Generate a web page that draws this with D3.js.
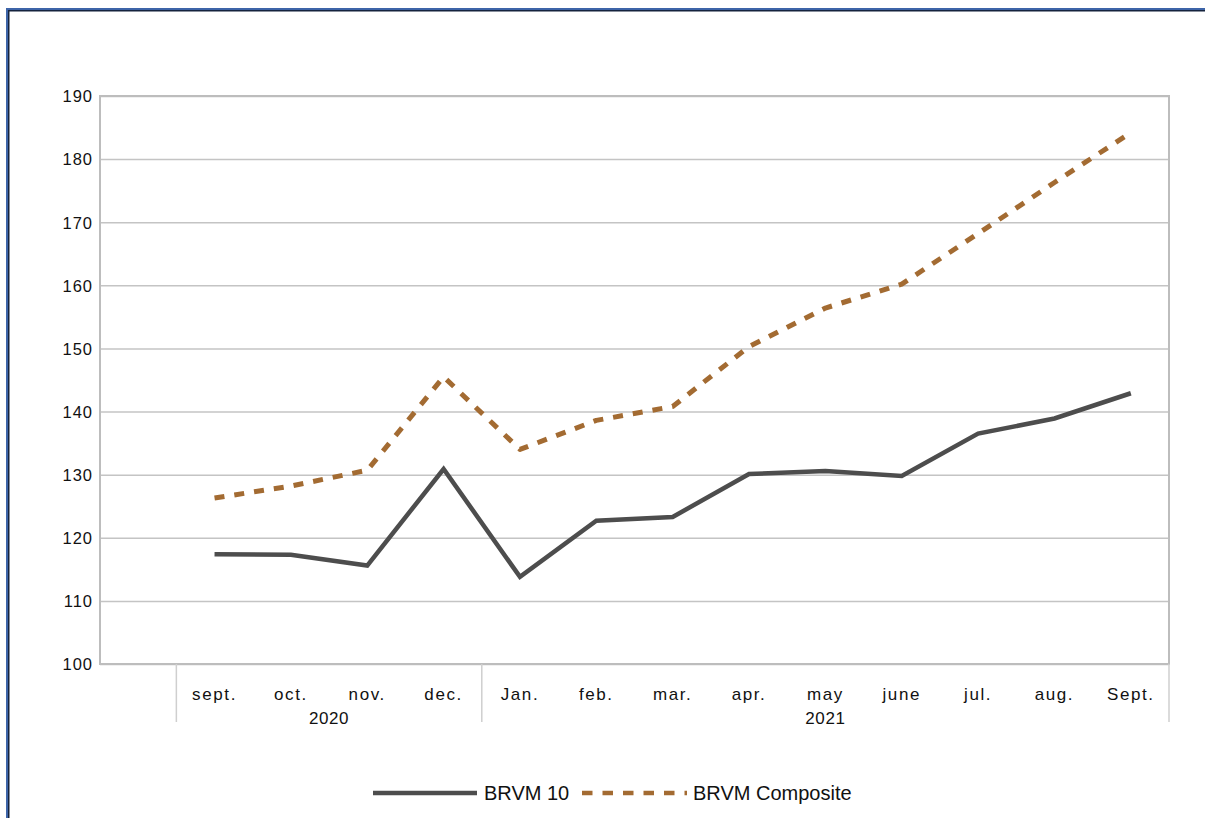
<!DOCTYPE html>
<html>
<head>
<meta charset="utf-8">
<script src="https://cdn.jsdelivr.net/npm/d3@7"></script>
<style>
html,body{margin:0;padding:0;background:#fff;}
svg{display:block;}
text{font-family:"Liberation Sans",Arial,sans-serif;fill:#111;}
</style>
</head>
<body>
<svg id="chart" width="1205" height="818"></svg>
<script>
// ---- data ----
const categories = ["", "sept.", "oct.", "nov.", "dec.", "Jan.", "feb.", "mar.", "apr.", "may", "june", "jul.", "aug.", "Sept."];
const years = [
  {label: "2020", from: 1, to: 4},
  {label: "2021", from: 5, to: 13}
];
const brvm10 =    [null, 117.4, 117.3, 115.6, 130.9, 113.8, 122.7, 123.3, 130.1, 130.6, 129.8, 136.5, 138.9, 142.9];
const composite = [null, 126.3, 128.2, 130.7, 145.5, 134.0, 138.6, 140.8, 150.3, 156.4, 160.2, 168.2, 176.3, 184.2];
const yTicks = [100, 110, 120, 130, 140, 150, 160, 170, 180, 190];
const seriesNames = ["BRVM 10", "BRVM Composite"];

// ---- layout ----
const svg = d3.select("#chart");
const L = 100, R = 1169, T = 96, B = 664;
const x = d3.scaleBand().domain(d3.range(categories.length)).range([L, R]).paddingInner(0).paddingOuter(0);
const y = d3.scaleLinear().domain([100, 190]).range([B, T]);

// outer frame (document border)
svg.append("rect").attr("x", 6).attr("y", 8).attr("width", 1300).attr("height", 2).attr("fill", "#3d64a8");
svg.append("rect").attr("x", 8).attr("y", 10).attr("width", 1300).attr("height", 1.5).attr("fill", "#15233d");
svg.append("rect").attr("x", 6).attr("y", 8).attr("width", 2).attr("height", 900).attr("fill", "#3d64a8");
svg.append("rect").attr("x", 8).attr("y", 10).attr("width", 1.5).attr("height", 900).attr("fill", "#15233d");

// gridlines
const yAxis = d3.axisLeft(y).tickValues(yTicks).tickSize(-(R - L)).tickPadding(8).tickFormat(d3.format("d"));
const gy = svg.append("g").attr("transform", `translate(${L},0)`).call(yAxis);
gy.select(".domain").remove();
gy.selectAll(".tick line").attr("stroke", "#c4c4c4").attr("stroke-width", 1.5);
gy.selectAll(".tick text").attr("x", -7).attr("dy", "0.35em")
  .style("font-size", "16.5px").style("letter-spacing", "1px").attr("fill", "#111");

// plot frame
svg.append("rect").attr("x", L).attr("y", T).attr("width", R - L).attr("height", B - T)
  .attr("fill", "none").attr("stroke", "#bdbdbd").attr("stroke-width", 2);

// category labels
const gx = svg.append("g");
gx.selectAll("text.cat").data(categories).enter().append("text")
  .attr("class", "cat")
  .attr("x", (d, i) => x(i) + x.bandwidth() / 2)
  .attr("y", 700)
  .attr("text-anchor", "middle")
  .style("font-size", "17px").style("letter-spacing", "1.6px")
  .text(d => d);

// group separators
const seps = [years[0].from, years[1].from, categories.length];
gx.selectAll("line.sep").data(seps).enter().append("line")
  .attr("class", "sep")
  .attr("x1", d => d < categories.length ? x(d) : R)
  .attr("x2", d => d < categories.length ? x(d) : R)
  .attr("y1", B).attr("y2", 722)
  .attr("stroke", "#cfcfcf").attr("stroke-width", 1.5);

// year labels
gx.selectAll("text.year").data(years).enter().append("text")
  .attr("class", "year")
  .attr("x", d => (x(d.from) + x(d.to) + x.bandwidth()) / 2)
  .attr("y", 724)
  .attr("text-anchor", "middle")
  .style("font-size", "17px").style("letter-spacing", "0.6px")
  .text(d => d.label);

// lines
const line = d3.line()
  .defined(d => d != null)
  .x((d, i) => x(i) + x.bandwidth() / 2)
  .y(d => y(d));

svg.append("path").datum(composite).attr("d", line)
  .attr("fill", "none").attr("stroke", "#a36b32").attr("stroke-width", 5)
  .attr("stroke-dasharray", "10,10").attr("stroke-linejoin", "round");

svg.append("path").datum(brvm10).attr("d", line)
  .attr("fill", "none").attr("stroke", "#4d4d4d").attr("stroke-width", 4.5)
  .attr("stroke-linejoin", "miter");

// legend
const lg = svg.append("g");
lg.append("line").attr("x1", 373).attr("x2", 477).attr("y1", 793).attr("y2", 793)
  .attr("stroke", "#4d4d4d").attr("stroke-width", 4.5);
lg.append("text").attr("x", 484).attr("y", 800).style("font-size", "20px").text(seriesNames[0]);
lg.append("line").attr("x1", 582).attr("x2", 687).attr("y1", 793).attr("y2", 793)
  .attr("stroke", "#a36b32").attr("stroke-width", 4.5).attr("stroke-dasharray", "10.5,10");
lg.append("text").attr("x", 693).attr("y", 800).style("font-size", "20px").text(seriesNames[1]);
</script>
</body>
</html>
